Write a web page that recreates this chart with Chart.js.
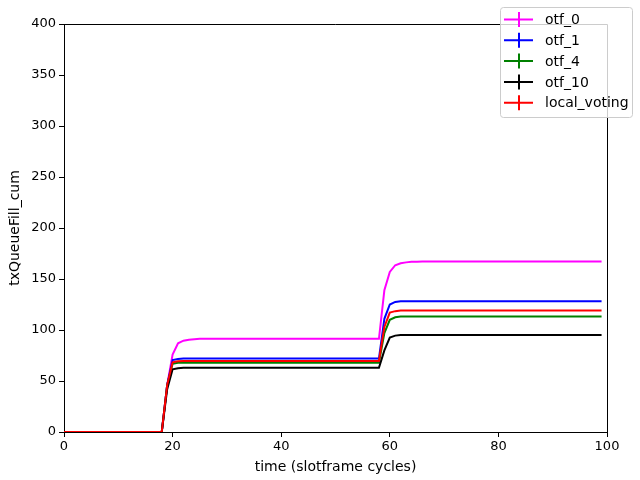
<!DOCTYPE html>
<html>
<head>
<meta charset="utf-8">
<script src="https://cdn.jsdelivr.net/npm/chart.js@4/dist/chart.umd.min.js"></script>
<style>
  html, body { margin: 0; padding: 0; background: #fff; }
  #wrap { width: 640px; height: 480px; }
</style>
</head>
<body>
<div id="wrap"><canvas id="txChart" width="640" height="480"></canvas></div>
<script>
// time (slotframe cycles)
const cycles = [
  0, 1, 2, 3, 4, 5, 6, 7, 8, 9,
  10, 11, 12, 13, 14, 15, 16, 17, 18, 19,
  20, 21, 22, 23, 24, 25, 26, 27, 28, 29,
  30, 31, 32, 33, 34, 35, 36, 37, 38, 39,
  40, 41, 42, 43, 44, 45, 46, 47, 48, 49,
  50, 51, 52, 53, 54, 55, 56, 57, 58, 59,
  60, 61, 62, 63, 64, 65, 66, 67, 68, 69,
  70, 71, 72, 73, 74, 75, 76, 77, 78, 79,
  80, 81, 82, 83, 84, 85, 86, 87, 88, 89,
  90, 91, 92, 93, 94, 95, 96, 97, 98, 99
];

const otf0 = [
  0, 0, 0, 0, 0, 0, 0, 0, 0, 0,
  0, 0, 0, 0, 0, 0, 0, 0, 0, 46,
  76, 87, 89.5, 90.5, 91, 91.3, 91.3, 91.3, 91.3, 91.3,
  91.3, 91.3, 91.3, 91.3, 91.3, 91.3, 91.3, 91.3, 91.3, 91.3,
  91.3, 91.3, 91.3, 91.3, 91.3, 91.3, 91.3, 91.3, 91.3, 91.3,
  91.3, 91.3, 91.3, 91.3, 91.3, 91.3, 91.3, 91.3, 91.3, 139,
  157, 163.5, 165.5, 166.3, 166.8, 167, 167.2, 167.2, 167.2, 167.2,
  167.2, 167.2, 167.2, 167.2, 167.2, 167.2, 167.2, 167.2, 167.2, 167.2,
  167.2, 167.2, 167.2, 167.2, 167.2, 167.2, 167.2, 167.2, 167.2, 167.2,
  167.2, 167.2, 167.2, 167.2, 167.2, 167.2, 167.2, 167.2, 167.2, 167.2
];

const otf1 = [
  0, 0, 0, 0, 0, 0, 0, 0, 0, 0,
  0, 0, 0, 0, 0, 0, 0, 0, 0, 46,
  70.5, 71.5, 72, 72, 72, 72, 72, 72, 72, 72,
  72, 72, 72, 72, 72, 72, 72, 72, 72, 72,
  72, 72, 72, 72, 72, 72, 72, 72, 72, 72,
  72, 72, 72, 72, 72, 72, 72, 72, 72, 111,
  125, 127.5, 128.2, 128.2, 128.2, 128.2, 128.2, 128.2, 128.2, 128.2,
  128.2, 128.2, 128.2, 128.2, 128.2, 128.2, 128.2, 128.2, 128.2, 128.2,
  128.2, 128.2, 128.2, 128.2, 128.2, 128.2, 128.2, 128.2, 128.2, 128.2,
  128.2, 128.2, 128.2, 128.2, 128.2, 128.2, 128.2, 128.2, 128.2, 128.2
];

const otf4 = [
  0, 0, 0, 0, 0, 0, 0, 0, 0, 0,
  0, 0, 0, 0, 0, 0, 0, 0, 0, 46,
  67, 67.8, 68, 68, 68, 68, 68, 68, 68, 68,
  68, 68, 68, 68, 68, 68, 68, 68, 68, 68,
  68, 68, 68, 68, 68, 68, 68, 68, 68, 68,
  68, 68, 68, 68, 68, 68, 68, 68, 68, 97,
  110, 112.5, 113.2, 113.2, 113.2, 113.2, 113.2, 113.2, 113.2, 113.2,
  113.2, 113.2, 113.2, 113.2, 113.2, 113.2, 113.2, 113.2, 113.2, 113.2,
  113.2, 113.2, 113.2, 113.2, 113.2, 113.2, 113.2, 113.2, 113.2, 113.2,
  113.2, 113.2, 113.2, 113.2, 113.2, 113.2, 113.2, 113.2, 113.2, 113.2
];

const otf10 = [
  0, 0, 0, 0, 0, 0, 0, 0, 0, 0,
  0, 0, 0, 0, 0, 0, 0, 0, 0, 42,
  61.5, 62.5, 63, 63, 63, 63, 63, 63, 63, 63,
  63, 63, 63, 63, 63, 63, 63, 63, 63, 63,
  63, 63, 63, 63, 63, 63, 63, 63, 63, 63,
  63, 63, 63, 63, 63, 63, 63, 63, 63, 80,
  92.5, 94.5, 95.2, 95.2, 95.2, 95.2, 95.2, 95.2, 95.2, 95.2,
  95.2, 95.2, 95.2, 95.2, 95.2, 95.2, 95.2, 95.2, 95.2, 95.2,
  95.2, 95.2, 95.2, 95.2, 95.2, 95.2, 95.2, 95.2, 95.2, 95.2,
  95.2, 95.2, 95.2, 95.2, 95.2, 95.2, 95.2, 95.2, 95.2, 95.2
];

const localVoting = [
  0, 0, 0, 0, 0, 0, 0, 0, 0, 0,
  0, 0, 0, 0, 0, 0, 0, 0, 0, 46,
  68.3, 69.3, 69.6, 69.6, 69.6, 69.6, 69.6, 69.6, 69.6, 69.6,
  69.6, 69.6, 69.6, 69.6, 69.6, 69.6, 69.6, 69.6, 69.6, 69.6,
  69.6, 69.6, 69.6, 69.6, 69.6, 69.6, 69.6, 69.6, 69.6, 69.6,
  69.6, 69.6, 69.6, 69.6, 69.6, 69.6, 69.6, 69.6, 69.6, 103,
  117, 118.5, 119, 119, 119, 119, 119, 119, 119, 119,
  119, 119, 119, 119, 119, 119, 119, 119, 119, 119,
  119, 119, 119, 119, 119, 119, 119, 119, 119, 119,
  119, 119, 119, 119, 119, 119, 119, 119, 119, 119
];

const seriesNames = ['otf_0', 'otf_1', 'otf_4', 'otf_10', 'local_voting'];
const seriesColors = ['#ff00ff', '#0000ff', '#008000', '#000000', '#ff0000'];
const seriesValues = [otf0, otf1, otf4, otf10, localVoting];

function toPoints(vals) {
  return cycles.map((c, i) => ({ x: c, y: vals[i] }));
}

// legend drawn like matplotlib's (errorbar handles, top right, overlapping the frame)
const mplLegend = {
  id: 'mplLegend',
  afterDraw(chart) {
    const c = chart.ctx;
    c.save();
    const bx = 500.5, by = 7.5, bw = 132, bh = 110;
    c.beginPath();
    if (c.roundRect) c.roundRect(bx, by, bw, bh, 3); else c.rect(bx, by, bw, bh);
    c.fillStyle = 'rgba(255,255,255,0.8)';
    c.fill();
    c.strokeStyle = '#cccccc';
    c.lineWidth = 1;
    c.stroke();
    chart.data.datasets.forEach((ds, i) => {
      const cy = 19.5 + i * 20.8;
      c.strokeStyle = ds.borderColor;
      c.lineWidth = 2;
      c.beginPath();
      c.moveTo(504, cy); c.lineTo(533, cy);
      c.moveTo(519, cy - 7.5); c.lineTo(519, cy + 7.5);
      c.stroke();
      c.fillStyle = '#000';
      c.font = '14px "DejaVu Sans"';
      c.textBaseline = 'middle';
      c.fillText(ds.label, 545, cy + 1);
    });
    c.restore();
  }
};

document.addEventListener('DOMContentLoaded', function() {
    const ctx = document.getElementById('txChart').getContext('2d');
    const tickFont = { family: 'DejaVu Sans', size: 13 };
    const titleFont = { family: 'DejaVu Sans', size: 14 };
    new Chart(ctx, {
        type: 'line',
        data: {
            datasets: seriesNames.map((name, i) => ({
                label: name,
                data: toPoints(seriesValues[i]),
                borderColor: seriesColors[i],
                backgroundColor: seriesColors[i],
                borderWidth: 2,
                pointRadius: 0,
                tension: 0,
                fill: false,
                order: seriesNames.length - 1 - i
            }))
        },
        options: {
            responsive: false,
            animation: false,
            devicePixelRatio: 1,
            layout: { padding: { top: 24, right: 33, left: 0, bottom: 0 } },
            plugins: { legend: { display: false }, tooltip: { enabled: false } },
            scales: {
                x: {
                    type: 'linear',
                    min: 0,
                    max: 100,
                    afterFit: s => { s.height = 48; },
                    ticks: { stepSize: 20, color: '#000', font: tickFont, padding: 2, maxRotation: 0 },
                    grid: { drawOnChartArea: false, tickLength: 5, color: '#000' },
                    border: { color: '#000', width: 1 },
                    title: { display: true, text: 'time (slotframe cycles)', color: '#000', font: titleFont, padding: { top: 2 } }
                },
                y: {
                    min: 0,
                    max: 400,
                    afterFit: s => { s.width = 64; },
                    ticks: { stepSize: 50, color: '#000', font: tickFont, padding: 3 },
                    grid: { drawOnChartArea: false, tickLength: 5, color: '#000' },
                    border: { color: '#000', width: 1 },
                    title: { display: true, text: 'txQueueFill_cum', color: '#000', font: titleFont, padding: { top: 7, bottom: 0 } }
                }
            }
        },
        plugins: [
            {
                id: 'rightTopFrame',
                afterDatasetsDraw(chart) {
                    const a = chart.chartArea, c = chart.ctx;
                    c.save();
                    c.strokeStyle = '#000';
                    c.lineWidth = 1;
                    c.beginPath();
                    c.moveTo(a.left, a.top + 0.5); c.lineTo(a.right + 0.5, a.top + 0.5);
                    c.lineTo(a.right + 0.5, a.bottom);
                    c.stroke();
                    c.restore();
                }
            },
            mplLegend
        ]
    });
});
</script>
</body>
</html>
